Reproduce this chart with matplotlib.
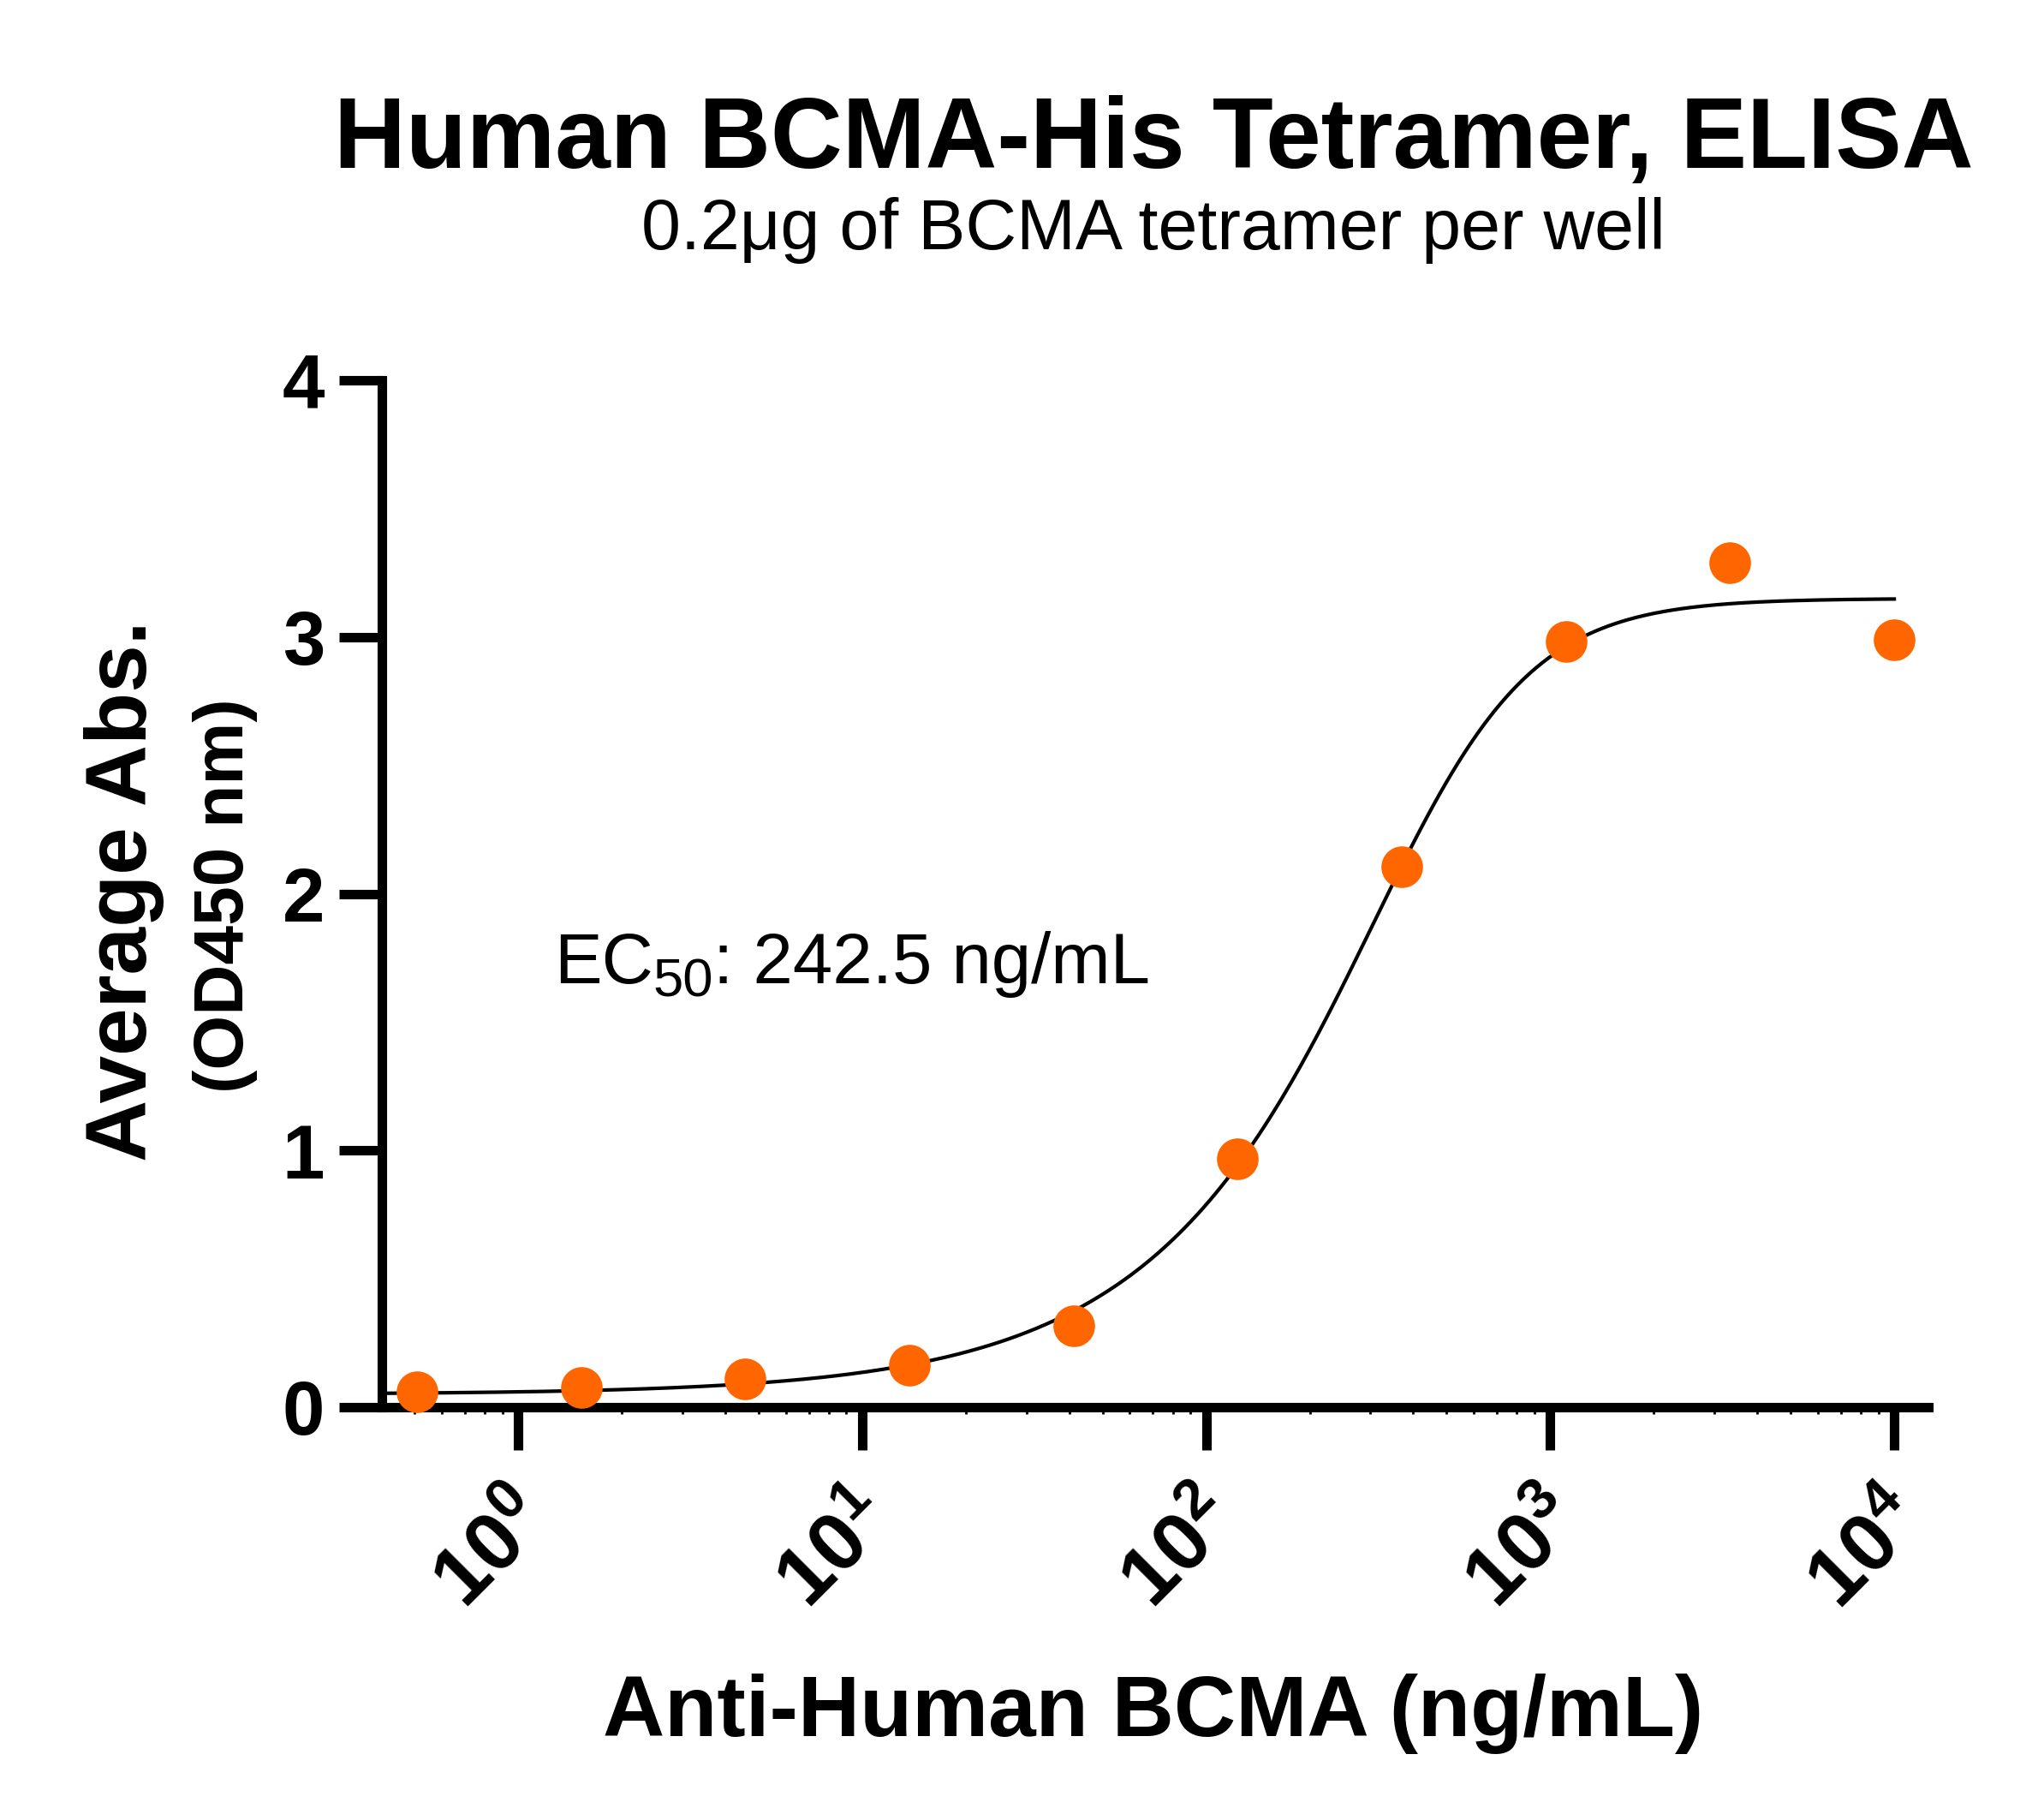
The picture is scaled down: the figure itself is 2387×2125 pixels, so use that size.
import numpy as np
import matplotlib
matplotlib.use("Agg")
import matplotlib.pyplot as plt
from matplotlib.ticker import LogLocator, FixedLocator
from matplotlib.transforms import IdentityTransform, ScaledTranslation

plt.rcParams['font.family'] = ['Liberation Sans', 'DejaVu Sans']
plt.rcParams['mathtext.fontset'] = 'custom'
plt.rcParams['mathtext.rm'] = 'Liberation Sans'
plt.rcParams['mathtext.bf'] = 'Liberation Sans:bold'
plt.rcParams['mathtext.it'] = 'Liberation Sans:italic'

# Data
concentration = [0.508, 1.524, 4.572, 13.72, 41.15, 123.5, 370.4, 1111, 3333, 10000]
absorbance = [0.06, 0.077, 0.11, 0.162, 0.316, 0.967, 2.105, 2.983, 3.29, 2.99]

# Asymmetric sigmoidal fit parameters (curve drawn from these)
fit_bottom = 0.05
fit_top = 3.15
fit_logc = 2.65
fit_hill = 2.1
fit_s = 0.45
ec50_label = 'EC50: 242.5 ng/mL'

x_ticks = [1, 10, 100, 1000, 10000]
x_ticklabels = [r'$\mathbf{10^{0}}$', r'$\mathbf{10^{1}}$', r'$\mathbf{10^{2}}$',
                r'$\mathbf{10^{3}}$', r'$\mathbf{10^{4}}$']
y_ticks = [0, 1, 2, 3, 4]

fig = plt.figure(figsize=(23.87, 21.25), dpi=100)
W, H = 2387, 2125
ax_left, ax_right, ax_top, ax_bottom = 446, 2252, 444, 1643
ax = fig.add_axes([ax_left / W, 1 - ax_bottom / H, (ax_right - ax_left) / W, (ax_bottom - ax_top) / H])

xmin, xmax = 10 ** -0.396, 10 ** 4.11
# keep log-axis decade spacing independent of the right limit change
xmax = 10 ** (-0.396 + (ax_right - ax_left) / 401.75)
xc = np.logspace(np.log10(xmin), np.log10(10000), 500)
yc = fit_bottom + (fit_top - fit_bottom) / (1 + 10 ** (fit_hill * (fit_logc - np.log10(xc)))) ** fit_s
ax.plot(xc, yc, color='black', lw=3, zorder=2, clip_on=False)
ax.plot(concentration, absorbance, 'o', color='#FF6600', ms=35, mec='none', zorder=3, clip_on=False)

ax.set_xscale('log')
ax.set_xlim(xmin, xmax)
ax.set_ylim(0, 4)

for s in ['top', 'right']:
    ax.spines[s].set_visible(False)
for s in ['left', 'bottom']:
    ax.spines[s].set_linewidth(8)
    ax.spines[s].set_capstyle('projecting')

ax.xaxis.set_major_locator(FixedLocator(x_ticks))
ax.set_xticklabels(x_ticklabels)
ax.xaxis.set_minor_locator(LogLocator(base=10, subs=np.arange(2, 10), numticks=20))
ax.set_yticks(y_ticks)
ax.set_yticklabels([str(v) for v in y_ticks])

ax.tick_params(axis='both', which='major', length=36, width=8, color='black')
ax.tick_params(axis='x', which='minor', length=6, width=2)
ax.tick_params(axis='y', which='major', labelsize=64, pad=12)
ax.tick_params(axis='x', which='major', labelsize=69, pad=26)
for lab in ax.get_yticklabels():
    lab.set_fontweight('bold')
shift = ScaledTranslation(-10 / 100, 0, fig.dpi_scale_trans)
for lab in ax.get_xticklabels():
    lab.set_rotation(45)
    lab.set_ha('right')
    lab.set_va('top')
    lab.set_rotation_mode('anchor')
    lab.set_transform(lab.get_transform() + shift)

cx = 1347 / W
fig.text(cx, 1 - 196 / H, 'Human BCMA-His Tetramer, ELISA', ha='center', va='baseline',
         fontsize=83.6, fontweight='bold')
fig.text(cx, 1 - 291 / H, '0.2μg of BCMA tetramer per well', ha='center', va='baseline',
         fontsize=59.5)

fig.text(cx, 1 - 2027 / H, 'Anti-Human BCMA (ng/mL)', ha='center', va='baseline',
         fontsize=72, fontweight='bold')
fig.text(145 / W, 1 - 1040 / H, 'Average Abs.', ha='center', va='center', rotation=90,
         fontsize=72, fontweight='bold')
fig.text(263 / W, 1 - 1046 / H, '(OD450 nm)', ha='center', va='center', rotation=90,
         fontsize=59, fontweight='bold')

# EC50 annotation composed of pieces (large subscript as in reference)
ec_fs = 60
renderer = fig.canvas.get_renderer()
part_a, part_sub, part_b = ec50_label[:2], ec50_label[2:4], ec50_label[4:]
bx, by = ax.transData.transform((1.27, 1.651))
t1 = fig.text(bx, by, part_a, transform=IdentityTransform(), fontsize=ec_fs, va='baseline', ha='left')
x1 = t1.get_window_extent(renderer).x1
t2 = fig.text(x1, by - 0.19 * ec_fs * 100 / 72, part_sub, transform=IdentityTransform(),
              fontsize=ec_fs * 0.76, va='baseline', ha='left')
x2 = t2.get_window_extent(renderer).x1
fig.text(x2, by, part_b, transform=IdentityTransform(), fontsize=ec_fs, va='baseline', ha='left')

fig.savefig('out.png', dpi=100)
